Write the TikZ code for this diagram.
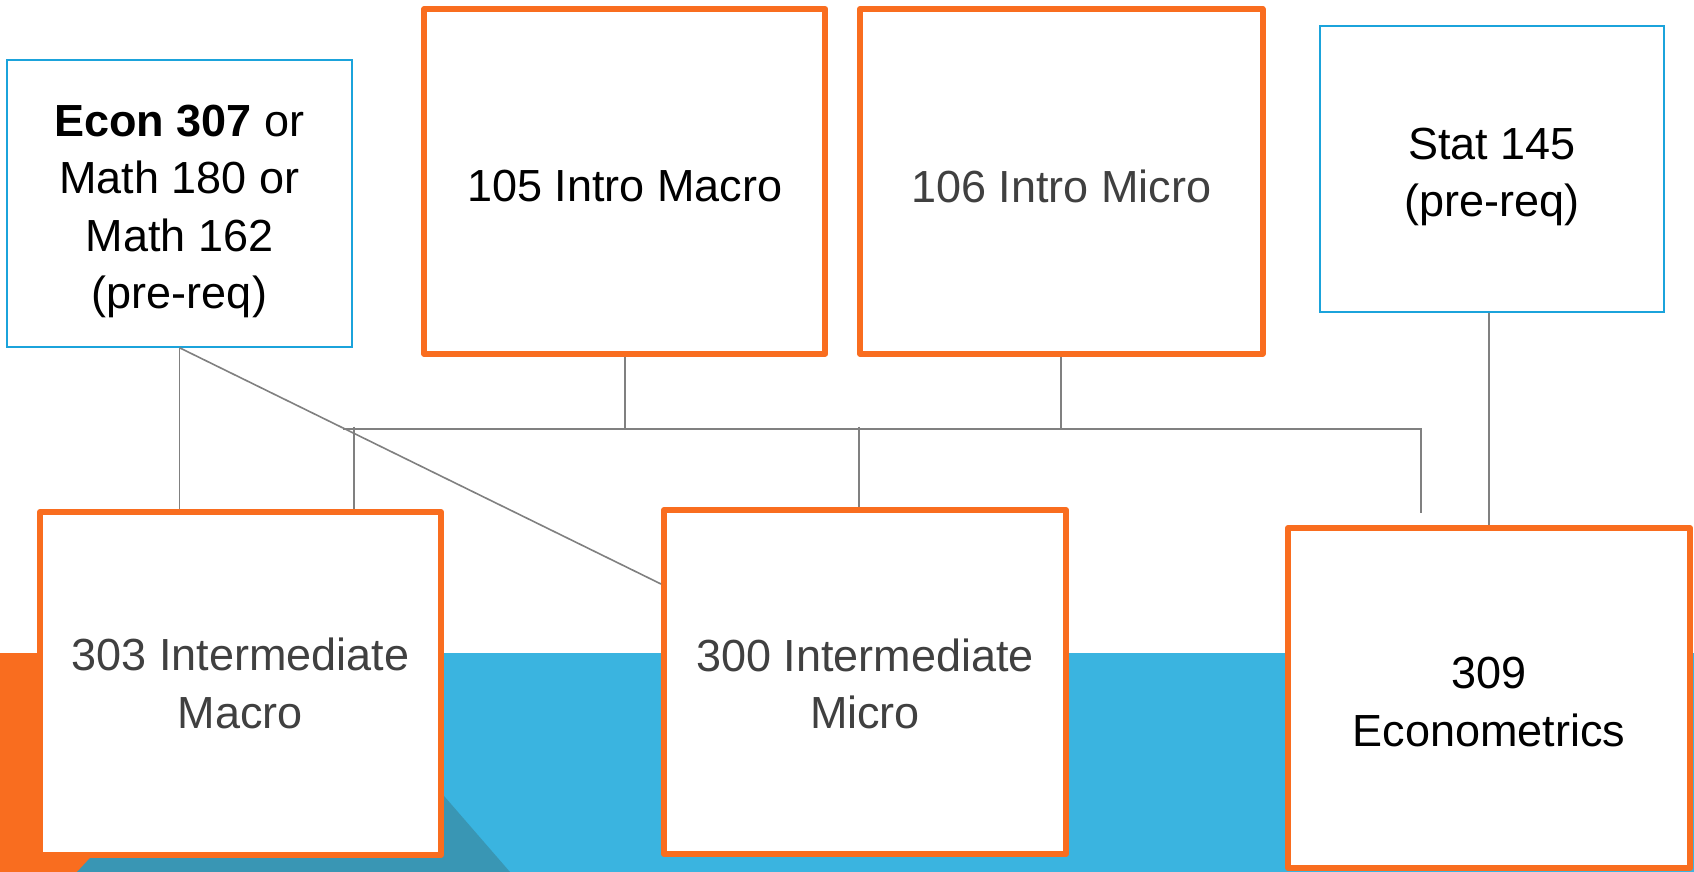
\documentclass[tikz,border=0pt]{standalone}
\usepackage{fontspec}
\setmainfont{Liberation Sans}
\usetikzlibrary{calc}
\definecolor{bandblue}{RGB}{58,180,224}
\definecolor{tealdark}{RGB}{57,150,180}
\definecolor{orng}{RGB}{249,109,31}
\definecolor{bblue}{RGB}{27,163,219}
\definecolor{conngray}{RGB}{128,128,128}
\definecolor{dgray}{RGB}{64,64,64}
\begin{document}
\begin{tikzpicture}[x=1pt,y=-1pt,
  txt/.style={align=center, inner sep=0pt, font=\fontsize{45}{57.5}\selectfont},
  obox/.style={draw=orng, line width=6pt, line join=round, fill=white, inner sep=0pt},
  bbox/.style={draw=bblue, line width=2pt, fill=white, inner sep=0pt},
  conn/.style={draw=conngray, line width=1.6pt}]
\useasboundingbox (0,0) rectangle (1694,872);
\fill[white] (0,0) rectangle (1694,872);
% background bands
\fill[bandblue] (0,653) rectangle (1694,872);
\fill[orng] (0,653) rectangle (250,872);
\fill[tealdark] (77,872) -- (280,653) -- (320,653) -- (510,872) -- cycle;

% boxes
\node[bbox, minimum width=344.5pt, minimum height=286.5pt] (econ) at (179.5,203.5) {};
\node[obox, minimum width=401pt, minimum height=344.7pt] (m105) at (624.75,181.4) {};
\node[obox, minimum width=402.5pt, minimum height=344.7pt] (m106) at (1061.25,181.4) {};
\node[bbox, minimum width=344pt, minimum height=286pt] (stat) at (1492,169) {};
\node[obox, minimum width=401pt, minimum height=343pt] (m303) at (240.5,683.5) {};
\node[obox, minimum width=402pt, minimum height=344pt] (m300) at (865,682) {};
\node[obox, minimum width=402pt, minimum height=340pt] (m309) at (1489,698) {};

% texts
\node[txt] (econT) at ([yshift=-8pt]econ.center)
  {\textbf{Econ 307} or\\Math 180 or\\Math 162\\(pre-req)};
\node[txt] (m105T) at ([yshift=-5pt]m105.center) {105 Intro Macro};
\node[txt, text=dgray] (m106T) at ([yshift=-5pt]m106.center) {106 Intro Micro};
\node[txt] (statT) at ([yshift=-8pt]stat.center) {Stat 145\\(pre-req)};
\node[txt, text=dgray] (m303T) at (m303.center) {303 Intermediate\\Macro};
\node[txt, text=dgray] (m300T) at ([yshift=-2pt]m300.center) {300 Intermediate\\Micro};
\node[txt] (m309T) at ([yshift=-4pt]m309.center) {309\\Econometrics};

% connector points
\coordinate (busL) at (343,429);
\coordinate (busR) at (1421,429);
\coordinate (busE) at (1421,513);
\coordinate (t303) at (354,426.5);
\coordinate (t300) at (859,426.5);

% connectors
\draw[conn] (econ.south) -- (econ.south |- m303.north);
\draw[conn] (econ.south) -- ([yshift=-77pt]m300.north west);
\draw[conn] (m105.south) -- (m105.south |- busL);
\draw[conn] (m106.south) -- (m106.south |- busL);
\draw[conn] (busL) -- (busR) -- (busE);
\draw[conn] (t303) -- (t303 |- m303.north);
\draw[conn] (t300) -- (t300 |- m300.north);
\draw[conn] (m309.north |- stat.south) -- (m309.north);
\end{tikzpicture}
\end{document}
